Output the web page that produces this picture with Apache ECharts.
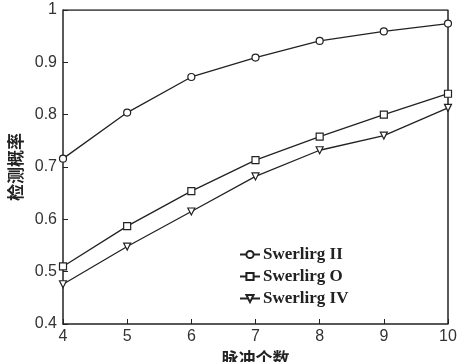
<!DOCTYPE html>
<html>
<head>
<meta charset="utf-8">
<script src="https://cdn.jsdelivr.net/npm/echarts@6/dist/echarts.min.js"></script>
<style>
html, body { margin: 0; padding: 0; background: #fff; }
#chart { width: 461px; height: 362px; }
</style>
</head>
<body>
<div id="chart"></div>
<script>
// 脉冲个数
const pulses = [4, 5, 6, 7, 8, 9, 10]
const swerling2 = [0.716, 0.804, 0.872, 0.909, 0.941, 0.959, 0.974]
const swerling0 = [0.51, 0.587, 0.654, 0.713, 0.758, 0.8, 0.84]
const swerling4 = [0.476, 0.548, 0.615, 0.682, 0.732, 0.76, 0.813]
const seriesNames = ['Swerlirg II', 'Swerlirg O', 'Swerlirg IV']

let myChart = echarts.init(document.getElementById('chart'))

function makeSeries(name, values, symbol, rotate) {
    return {
        name: name,
        type: 'line',
        data: pulses.map((p, i) => [p, values[i]]),
        symbol: symbol,
        symbolSize: 7,
        symbolRotate: rotate,
        showAllSymbol: true,
        lineStyle: { color: '#222', width: 1.3 },
        itemStyle: { color: '#fff', borderColor: '#222', borderWidth: 1.2 },
        emphasis: { disabled: true }
    }
}

let option = {
    animation: false,
    grid: { left: 63, right: 13, top: 10, bottom: 38, outerBoundsMode: 'none' },
    legend: {
        orient: 'vertical',
        left: 234,
        top: 241,
        itemWidth: 20,
        itemHeight: 9,
        itemGap: 5,
        data: seriesNames,
        textStyle: { fontFamily: 'Liberation Serif', fontSize: 17, fontWeight: 'bold', color: '#222', padding: [0, 0, 0, -2] }
    },
    xAxis: {
        type: 'value',
        min: 4, max: 10, interval: 1,
        name: '脉冲个数',
        nameLocation: 'middle',
        nameGap: 26,
        nameTextStyle: { fontFamily: 'Noto Sans CJK SC', fontSize: 17, fontWeight: 'bold', color: '#222' },
        axisLine: { lineStyle: { color: '#222', width: 1.5 } },
        axisTick: { inside: true, length: 5, lineStyle: { color: '#222' } },
        axisLabel: { color: '#333', fontFamily: 'Liberation Sans', fontSize: 16, margin: 5 },
        splitLine: { show: false }
    },
    yAxis: {
        type: 'value',
        min: 0.4, max: 1, interval: 0.1,
        name: '检测概率',
        nameLocation: 'middle',
        nameGap: 39,
        nameTextStyle: { fontFamily: 'Noto Sans CJK SC', fontSize: 17, fontWeight: 'bold', color: '#222' },
        axisLine: { lineStyle: { color: '#222', width: 1.5 } },
        axisTick: { inside: true, length: 5, lineStyle: { color: '#222' } },
        axisLabel: { color: '#333', fontFamily: 'Liberation Sans', fontSize: 16, margin: 6 },
        splitLine: { show: false }
    },
    series: [
        makeSeries(seriesNames[0], swerling2, 'circle', 0),
        makeSeries(seriesNames[1], swerling0, 'rect', 0),
        makeSeries(seriesNames[2], swerling4, 'triangle', 180),
        {
            // top and right frame lines
            type: 'line',
            data: [[4, 1], [10, 1], [10, 0.4]],
            symbol: 'none',
            silent: true,
            lineStyle: { color: '#222', width: 1.5 }
        }
    ]
}
myChart.setOption(option)
</script>
</body>
</html>
